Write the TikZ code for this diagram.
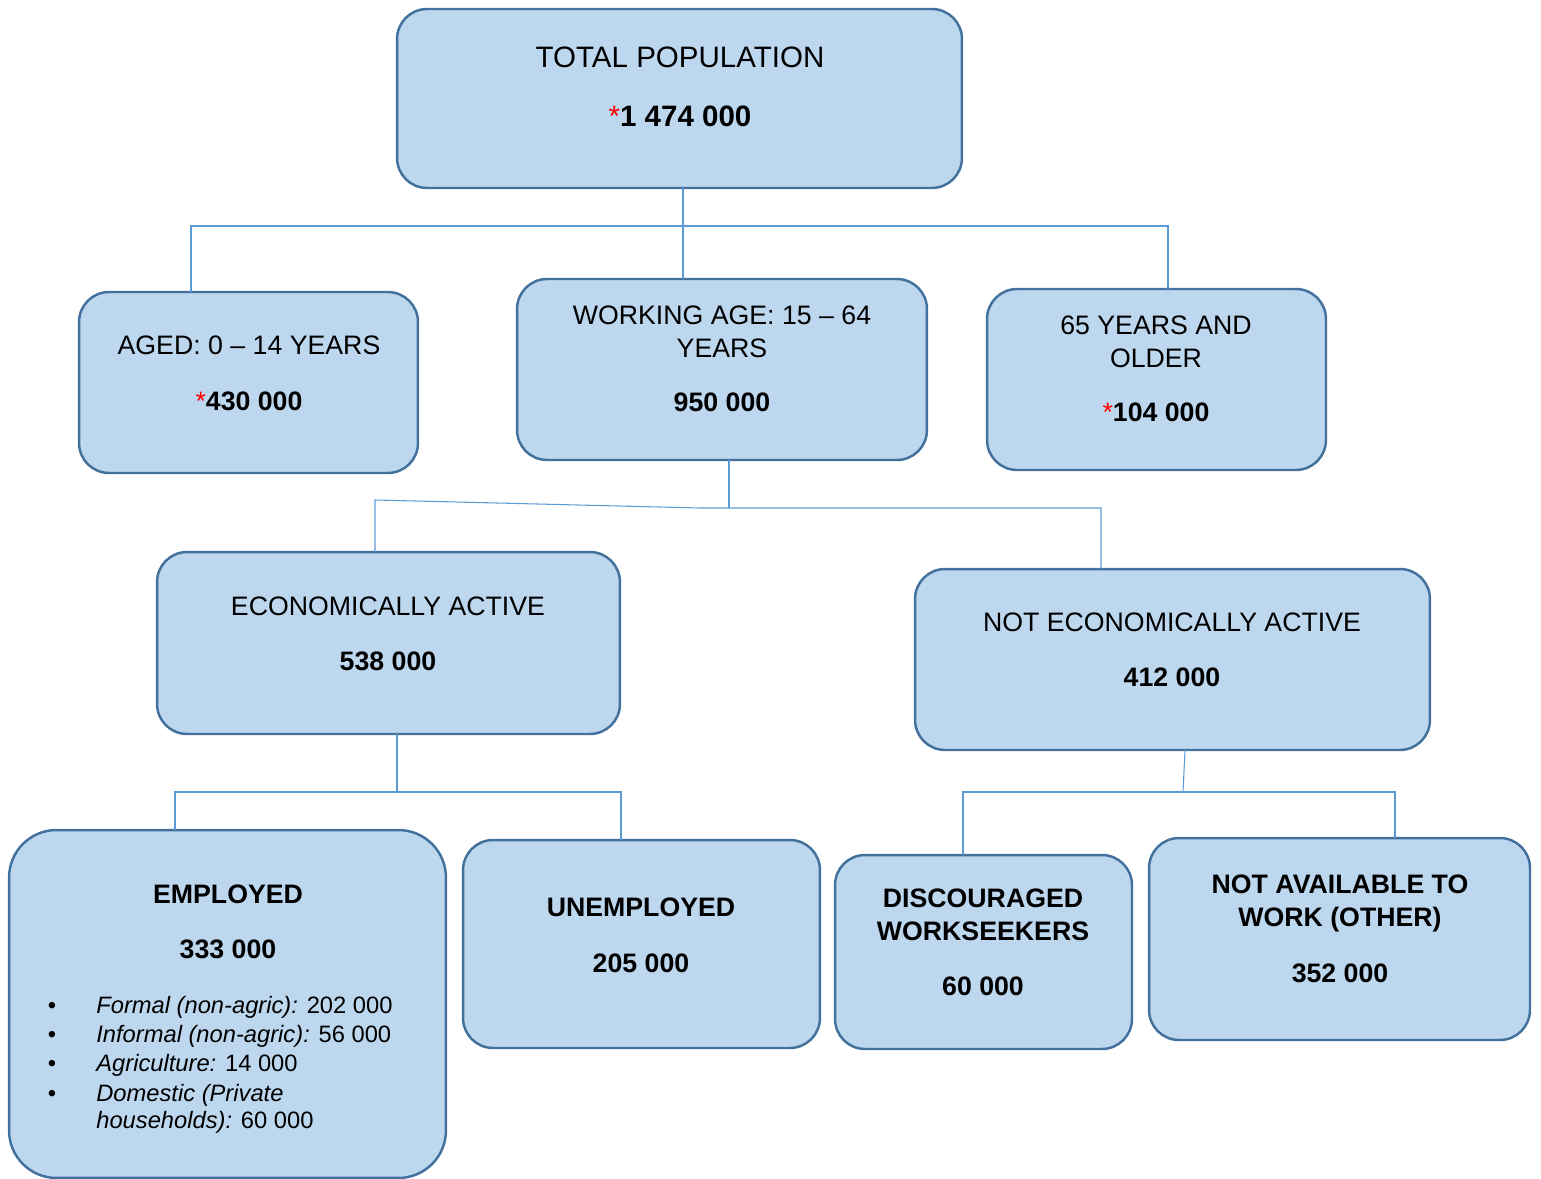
\documentclass[tikz,border=0pt]{standalone}
\usepackage{fontspec}
\setmainfont{Liberation Sans}
\definecolor{boxfill}{HTML}{BDD7EE}
\definecolor{boxline}{HTML}{41719C}
\definecolor{linkcol}{HTML}{5B9BD5}
\tikzset{
  box/.style={draw=boxline, fill=boxfill, line width=1.4pt, rounded corners=0.6cm,
    inner sep=0pt, outer sep=0pt},
  ln/.style={anchor=base, inner sep=0pt, font=\fontsize{15.2}{18}\selectfont},
  big/.style={ln, font=\fontsize{16.8}{20}\selectfont},
  lw/.style={anchor=base west, inner sep=0pt, font=\fontsize{13.5}{16}\selectfont}
}
\tikzset{link/.style={draw=linkcol, line width=0.6pt}}
\newcommand{\rs}{{\color{red}*}}
\begin{document}
\begin{tikzpicture}[x=0.02cm, y=-0.02cm]
\useasboundingbox (0,0) rectangle (1541,1179);
% boxes
\node[box, minimum width=11.3cm, minimum height=3.58cm] (tot) at (679.5, 98.5) {};
\node[box, minimum width=6.78cm, minimum height=3.62cm] (aged) at (248.5, 382.5) {};
\node[box, minimum width=8.2cm, minimum height=3.62cm] (work) at (722, 369.5) {};
\node[box, minimum width=6.78cm, minimum height=3.62cm] (old) at (1156.5, 379.5) {};
\node[box, minimum width=9.26cm, minimum height=3.64cm] (act) at (388.5, 643) {};
\node[box, minimum width=10.3cm, minimum height=3.62cm] (nact) at (1172.5, 659.5) {};
\node[box, rounded corners=0.95cm, minimum width=8.74cm, minimum height=6.96cm] (emp) at (227.5, 1004) {};
\node[box, minimum width=7.14cm, minimum height=4.16cm] (unemp) at (641.5, 944) {};
\node[box, minimum width=5.94cm, minimum height=3.88cm] (disc) at (983.5, 952) {};
\node[box, minimum width=7.62cm, minimum height=4.04cm] (navail) at (1339.5, 939) {};
% texts
\node[big] (tot-a) at (680, 68) {TOTAL POPULATION};
\node[big] (tot-b) at (680, 127) {\rs\textbf{1 474 000}};
\node[ln] (aged-a) at (249, 354) {AGED: 0 – 14 YEARS};
\node[ln] (aged-b) at (249, 410) {\rs\textbf{430 000}};
\node[ln] (work-a) at (722, 324) {WORKING AGE: 15 – 64};
\node[ln] (work-b) at (722, 357) {YEARS};
\node[ln] (work-c) at (722, 411) {\textbf{950 000}};
\node[ln] (old-a) at (1156, 334) {65 YEARS AND};
\node[ln] (old-b) at (1156, 367) {OLDER};
\node[ln] (old-c) at (1156, 421) {\rs\textbf{104 000}};
\node[ln] (act-a) at (388, 615) {ECONOMICALLY ACTIVE};
\node[ln] (act-b) at (388, 670) {\textbf{538 000}};
\node[ln] (nact-a) at (1172, 631) {NOT ECONOMICALLY ACTIVE};
\node[ln] (nact-b) at (1172, 686) {\textbf{412 000}};
\node[ln] (emp-a) at (228, 903) {\textbf{EMPLOYED}};
\node[ln] (emp-b) at (228, 958) {\textbf{333 000}};
\foreach \yy/\tx [count=\i] in {1013/{\textit{Formal (non-agric):} 202 000},
    1042/{\textit{Informal (non-agric):} 56 000},
    1071/{\textit{Agriculture:} 14 000},
    1101/{\textit{Domestic (Private}}}{
  \node[lw, anchor=base] (dot-\i) at (52, \yy) {\textbullet};
  \node[lw] (itm-\i) at (96, \yy) {\tx};
}
\node[lw] (itm-5) at (96, 1128) {\textit{households):} 60 000};
\node[ln] (unemp-a) at (641, 916) {\textbf{UNEMPLOYED}};
\node[ln] (unemp-b) at (641, 972) {\textbf{205 000}};
\node[ln] (disc-a) at (983, 907) {\textbf{DISCOURAGED}};
\node[ln] (disc-b) at (983, 940) {\textbf{WORKSEEKERS}};
\node[ln] (disc-c) at (983, 995) {\textbf{60 000}};
\node[ln] (navail-a) at (1340, 893) {\textbf{NOT AVAILABLE TO}};
\node[ln] (navail-b) at (1340, 926) {\textbf{WORK (OTHER)}};
\node[ln] (navail-c) at (1340, 982) {\textbf{352 000}};
% connectors
\coordinate (j0) at (683, 226);
\coordinate (j1) at (191, 226);
\coordinate (j2) at (1168, 226);
\draw[link] (tot.south -| j0) -- (j0 |- work.north);
\draw[link] (j1 |- aged.north) -- (j1) -- (j2) -- (j2 |- old.north);
\coordinate (j3) at (729, 508);
\coordinate (j4) at (700, 508);
\coordinate (j5) at (375, 500);
\coordinate (j6) at (1101, 508);
\draw[link] (work.south -| j3) -- (j3);
\draw[link] (j5 |- act.north) -- (j5) -- (j4) -- (j6) -- (j6 |- nact.north);
\coordinate (j7) at (397, 792);
\coordinate (j8) at (175, 792);
\coordinate (j9) at (621, 792);
\draw[link] (act.south -| j7) -- (j7);
\draw[link] (j8 |- emp.north) -- (j8) -- (j9) -- (j9 |- unemp.north);
\coordinate (j10) at (1183, 792);
\coordinate (j11) at (963, 792);
\coordinate (j12) at (1395, 792);
\coordinate (j13) at (1185, 750);
\draw[link] (nact.south -| j13) -- (j10);
\draw[link] (j11 |- disc.north) -- (j11) -- (j12) -- (j12 |- navail.north);
\end{tikzpicture}
\end{document}
